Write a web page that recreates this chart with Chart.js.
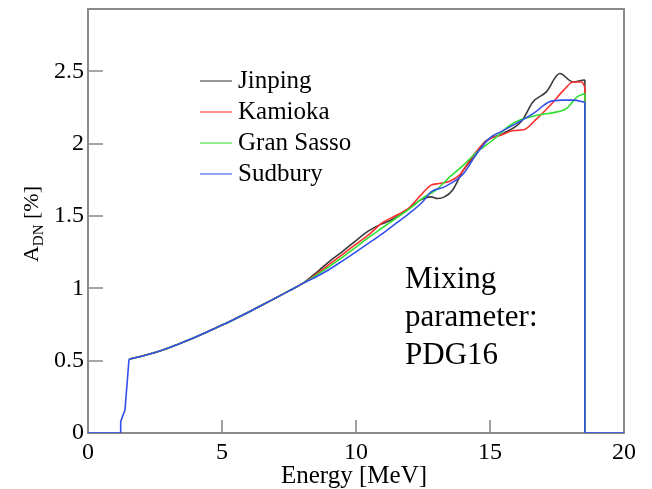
<!DOCTYPE html>
<html>
<head>
<meta charset="utf-8">
<script src="https://cdn.jsdelivr.net/npm/chart.js@4/dist/chart.umd.min.js"></script>
<style>
html,body{margin:0;padding:0;background:#fff;}
#wrap{width:652px;height:489px;position:relative;}
</style>
</head>
<body>
<div id="wrap"><canvas id="c" width="652" height="489"></canvas></div>
<script>
// ---- data ----
const seriesNames = ['Jinping', 'Kamioka', 'Gran Sasso', 'Sudbury'];
const seriesColors = ['#3a3a3a', '#ff2e2e', '#2ee02e', '#3450ea'];

// threshold rise (shared by all sites; drawn in blue)
const riseE = [0, 1.22, 1.22, 1.30, 1.38, 1.53];
const riseA = [0, 0, 0.078, 0.12, 0.159, 0.51];

// common part of the curves
const headE = [1.53, 2, 2.5, 3, 3.5, 4, 4.5, 5, 5.5, 6, 6.5, 7, 7.5];
const headA = [0.510, 0.530, 0.556, 0.588, 0.624, 0.662, 0.703, 0.746, 0.790, 0.836, 0.884, 0.933, 0.982];

const jinpingE = [8, 8.5, 9, 9.5, 10, 10.5, 10.9, 11.3, 11.9, 12.4, 12.8, 13.05, 13.3, 13.6, 14, 14.5, 14.8, 15.5, 16.2, 16.6, 17.1, 17.6, 18.1, 18.45, 18.54];
const jinpingA = [1.032, 1.105, 1.185, 1.255, 1.33, 1.40, 1.44, 1.47, 1.54, 1.609, 1.632, 1.621, 1.632, 1.678, 1.816, 1.93, 2.01, 2.07, 2.16, 2.288, 2.357, 2.484, 2.426, 2.438, 2.44];

const kamiokaE = [8, 8.5, 9, 9.5, 10, 10.5, 11.0, 11.4, 12.0, 12.4, 12.8, 13.1, 13.5, 13.9, 14.3, 14.7, 15.0, 15.4, 15.9, 16.25, 16.75, 17.25, 17.75, 18.1, 18.43, 18.54];
const kamiokaA = [1.032, 1.095, 1.165, 1.235, 1.305, 1.375, 1.455, 1.494, 1.56, 1.64, 1.713, 1.724, 1.74, 1.79, 1.90, 1.99, 2.035, 2.058, 2.09, 2.095, 2.173, 2.265, 2.369, 2.426, 2.426, 2.39];

const gransassoE = [8, 8.5, 9, 9.5, 10, 10.5, 11, 11.5, 12, 12.5, 13, 13.5, 14, 14.5, 15.1, 15.75, 16.1, 16.75, 17.5, 17.85, 18.25, 18.54];
const gransassoA = [1.032, 1.088, 1.15, 1.215, 1.285, 1.355, 1.42, 1.485, 1.55, 1.625, 1.68, 1.77, 1.85, 1.94, 2.023, 2.127, 2.162, 2.196, 2.219, 2.242, 2.323, 2.346];

const sudburyE = [8, 8.5, 9, 9.5, 10, 10.5, 11, 11.5, 12, 12.5, 12.8, 13.3, 14, 14.5, 15.0, 15.4, 16.2, 16.7, 17.2, 17.7, 18.1, 18.48, 18.54];
const sudburyA = [1.032, 1.078, 1.13, 1.19, 1.252, 1.315, 1.38, 1.45, 1.52, 1.60, 1.667, 1.701, 1.79, 1.93, 2.04, 2.081, 2.162, 2.219, 2.288, 2.30, 2.30, 2.288, 2.285];

const cutoffE = 18.54;
const xTicks = [0, 5, 10, 15, 20];
const yTicks = [0, 0.5, 1, 1.5, 2, 2.5];
const xMin = 0, xMax = 20, yMin = 0, yMax = 2.93;
const xTitle = 'Energy [MeV]';
const annotationLines = ['Mixing', 'parameter:', 'PDG16'];

// ---- build datasets ----
function pts(E, A) { return E.map((e, i) => ({ x: e, y: A[i] })); }
const tails = [[jinpingE, jinpingA], [kamiokaE, kamiokaA], [gransassoE, gransassoA], [sudburyE, sudburyA]];
const smooth = tails.map((t, i) => ({
  label: seriesNames[i],
  data: pts(headE.concat(t[0]), headA.concat(t[1])),
  borderColor: seriesColors[i],
  borderWidth: 1.6,
  pointRadius: 0,
  cubicInterpolationMode: 'monotone',
  fill: false
}));
const drops = tails.map((t, i) => {
  const last = t[1][t[1].length - 1];
  const E = [cutoffE, cutoffE].concat(i === 3 ? [xMax] : []);
  const A = [last, 0].concat(i === 3 ? [0] : []);
  return { label: '_drop' + i, data: pts(E, A), borderColor: seriesColors[i], borderWidth: 1.6, pointRadius: 0, tension: 0 };
});
const rise = { label: '_rise', data: pts(riseE, riseA), borderColor: seriesColors[3], borderWidth: 1.6, pointRadius: 0, tension: 0 };

// index 0 is drawn on top
const datasets = [rise, drops[3], smooth[3], smooth[2], smooth[1], smooth[0], drops[2], drops[1], drops[0]];

const SERIF = "'Liberation Serif', 'Times New Roman', serif";
const frameColor = '#8a8a8a';

const decor = {
  id: 'decor',
  beforeDatasetsDraw(chart) {
    const { ctx, chartArea: a, scales } = chart;
    ctx.save();
    ctx.strokeStyle = frameColor;
    ctx.lineWidth = 2;
    ctx.strokeRect(a.left, a.top, a.right - a.left, a.bottom - a.top);
    ctx.beginPath();
    xTicks.forEach(v => {
      const px = Math.round(scales.x.getPixelForValue(v));
      ctx.moveTo(px, a.bottom); ctx.lineTo(px, a.bottom - 13);
    });
    yTicks.forEach(v => {
      const py = Math.round(scales.y.getPixelForValue(v));
      ctx.moveTo(a.left, py); ctx.lineTo(a.left + 15, py);
    });
    ctx.lineWidth = 1.6;
    ctx.stroke();
    ctx.restore();
  },
  afterDraw(chart) {
    const { ctx, chartArea: a } = chart;
    ctx.save();
    // legend
    const lx = 200, ly0 = 81, dy = 31;
    ctx.font = '25px ' + SERIF;
    ctx.textBaseline = 'middle';
    ctx.textAlign = 'left';
    seriesNames.forEach((n, i) => {
      const y = ly0 + i * dy;
      ctx.strokeStyle = seriesColors[i];
      ctx.globalAlpha = 0.8;
      ctx.lineWidth = 1.3;
      ctx.beginPath(); ctx.moveTo(lx, y); ctx.lineTo(lx + 32, y); ctx.stroke();
      ctx.globalAlpha = 1;
      ctx.fillStyle = '#000';
      ctx.fillText(n, lx + 38, y);
    });

    // annotation
    ctx.font = '31px ' + SERIF;
    ctx.textBaseline = 'alphabetic';
    annotationLines.forEach((t, i) => ctx.fillText(t, 405, 288 + i * 38));

    // x title
    ctx.font = '25px ' + SERIF;
    ctx.textAlign = 'center';
    ctx.fillText(xTitle, (a.left + a.right) / 2 - 2, 483);
    ctx.textAlign = 'left';

    // y title with subscript
    ctx.translate(38, 224);
    ctx.rotate(-Math.PI / 2);
    const f1 = '22px ' + SERIF, f2 = '15px ' + SERIF;
    ctx.font = f1; const wA = ctx.measureText('A').width; const wR = ctx.measureText(' [%]').width;
    ctx.font = f2; const wS = ctx.measureText('DN').width;
    let x0 = -(wA + wS + wR) / 2;
    ctx.fillStyle = '#000';
    ctx.font = f1; ctx.fillText('A', x0, 0);
    ctx.font = f2; ctx.fillText('DN', x0 + wA, 5);
    ctx.font = f1; ctx.fillText(' [%]', x0 + wA + wS, 0);
    ctx.restore();
  }
};

new Chart(document.getElementById('c'), {
  type: 'line',
  data: { datasets },
  options: {
    responsive: false,
    animation: false,
    events: [],
    layout: { padding: { left: 0, top: 9, right: 28, bottom: 0 } },
    plugins: { legend: { display: false }, tooltip: { enabled: false } },
    scales: {
      x: {
        type: 'linear', min: xMin, max: xMax,
        afterBuildTicks: s => { s.ticks = xTicks.map(v => ({ value: v })); },
        afterFit: s => { s.height = 56; s.paddingLeft = 0; s.paddingRight = 0; },
        grid: { display: false, drawTicks: false },
        border: { display: false },
        ticks: { color: '#000', font: { family: SERIF, size: 24 }, padding: 5, maxRotation: 0, autoSkip: false }
      },
      y: {
        type: 'linear', min: yMin, max: yMax,
        afterBuildTicks: s => { s.ticks = yTicks.map(v => ({ value: v })); },
        afterFit: s => { s.width = 88; s.paddingTop = 0; s.paddingBottom = 0; },
        grid: { display: false, drawTicks: false },
        border: { display: false },
        ticks: { color: '#000', font: { family: SERIF, size: 24 }, padding: 4, autoSkip: false, callback: v => String(v) }
      }
    }
  },
  plugins: [decor]
});
</script>
</body>
</html>
